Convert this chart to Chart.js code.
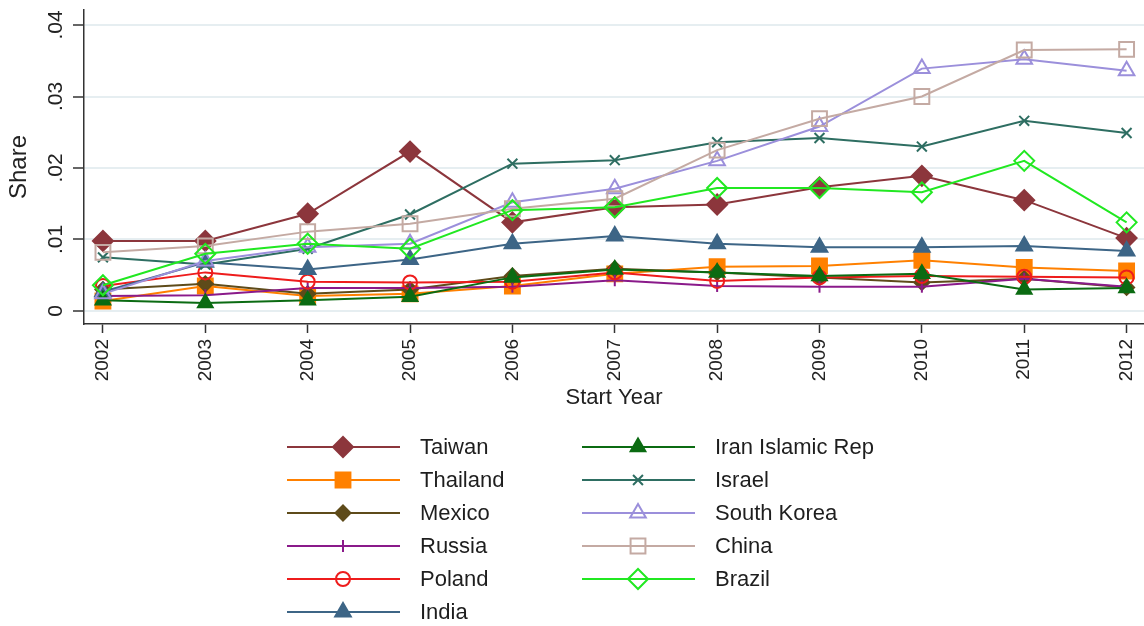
<!DOCTYPE html>
<html>
<head>
<meta charset="utf-8">
<script src="https://cdn.jsdelivr.net/npm/chart.js@4/dist/chart.umd.min.js"></script>
<style>
html,body{margin:0;padding:0;background:#ffffff;}
#wrap{width:1144px;height:626px;position:relative;}
</style>
</head>
<body>
<div id="wrap"><canvas id="c" width="1144" height="626"></canvas></div>
<script>
// ---- data ----
const years = [2002, 2003, 2004, 2005, 2006, 2007, 2008, 2009, 2010, 2011, 2012];
const yTicks = [0, 0.01, 0.02, 0.03, 0.04];
const countryNames = ["Taiwan", "Thailand", "Mexico", "Russia", "Poland", "India",
  "Iran Islamic Rep", "Israel", "South Korea", "China", "Brazil"];

const taiwan     = [0.0098, 0.0098, 0.0136, 0.0223, 0.0124, 0.0145, 0.0149, 0.0173, 0.0189, 0.0155, 0.0102];
const thailand   = [0.0014, 0.0035, 0.0021, 0.0024, 0.0035, 0.0052, 0.0062, 0.0063, 0.0071, 0.0061, 0.0056];
const mexico     = [0.0030, 0.0038, 0.0024, 0.0030, 0.0049, 0.0059, 0.0054, 0.0047, 0.0040, 0.0045, 0.0033];
const russia     = [0.0021, 0.0022, 0.0032, 0.0032, 0.0034, 0.0043, 0.0035, 0.0034, 0.0034, 0.0045, 0.0034];
const poland     = [0.0035, 0.0054, 0.0041, 0.0040, 0.0041, 0.0054, 0.0042, 0.0047, 0.0049, 0.0048, 0.0047];
const india      = [0.0027, 0.0068, 0.0058, 0.0072, 0.0094, 0.0105, 0.0094, 0.0089, 0.0089, 0.0091, 0.0084];
const iran       = [0.0015, 0.0011, 0.0015, 0.0020, 0.0047, 0.0058, 0.0054, 0.0049, 0.0052, 0.0030, 0.0032];
const israel     = [0.0075, 0.0065, 0.0087, 0.0135, 0.0206, 0.0211, 0.0236, 0.0242, 0.0230, 0.0266, 0.0249];
const southKorea = [0.0024, 0.0070, 0.0089, 0.0094, 0.0152, 0.0171, 0.0210, 0.0258, 0.0339, 0.0352, 0.0336];
const china      = [0.0082, 0.0091, 0.0111, 0.0122, 0.0143, 0.0157, 0.0225, 0.0269, 0.0300, 0.0365, 0.0366];
const brazil     = [0.0036, 0.0080, 0.0094, 0.0087, 0.0141, 0.0145, 0.0172, 0.0172, 0.0166, 0.0210, 0.0124];

const seriesValues = [taiwan, thailand, mexico, russia, poland, india, iran, israel, southKorea, china, brazil];

// ---- styles ----
const colors = ["#8c363c", "#ff8000", "#5e4b1a", "#8a1a8a", "#ee1c1c", "#3d6586",
  "#0b6b12", "#2e6e62", "#9b8fdb", "#c4aaa3", "#21e821"];
const markers = [
  {style: "rectRot", r: 10, fill: true},
  {style: "rect", r: 10.5, fill: true},
  {style: "rectRot", r: 7.5, fill: true},
  {style: "line", r: 6, fill: true, rot: 90},
  {style: "circle", r: 7, fill: false},
  {style: "triangle", r: 9, fill: true},
  {style: "triangle", r: 8.5, fill: true},
  {style: "crossRot", r: 7, fill: true},
  {style: "triangle", r: 9, fill: false},
  {style: "rect", r: 10.5, fill: false},
  {style: "rectRot", r: 10, fill: false}
];

const FONT = '"Liberation Sans", Arial, sans-serif';
const n = countryNames.length;

const datasets = countryNames.map((name, i) => ({
  label: name,
  data: years.map((yr, j) => ({x: yr, y: seriesValues[i][j]})),
  borderColor: colors[i],
  backgroundColor: colors[i],
  borderWidth: 2,
  pointStyle: markers[i].style,
  pointRadius: markers[i].r,
  pointRotation: markers[i].rot || 0,
  pointBackgroundColor: markers[i].fill ? colors[i] : "rgba(0,0,0,0)",
  pointBorderColor: colors[i],
  pointBorderWidth: 2,
  tension: 0,
  clip: false,
  order: n - i
}));

const legendPlugin = {
  id: "stataLegend",
  afterDraw(chart) {
    const ctx = chart.ctx;
    chart.data.datasets.forEach((ds, i) => {
      const col = i < 6 ? 0 : 1;
      const row = col ? i - 6 : i;
      const x0 = col ? 582 : 287;
      const x1 = x0 + 113;
      const mx = x0 + 56;
      const tx = x0 + 133;
      const y = 447 + row * 33;
      ctx.save();
      ctx.strokeStyle = ds.borderColor;
      ctx.lineWidth = ds.borderWidth;
      ctx.beginPath();
      ctx.moveTo(x0, y);
      ctx.lineTo(x1, y);
      ctx.stroke();
      ctx.fillStyle = ds.pointBackgroundColor;
      ctx.strokeStyle = ds.pointBorderColor;
      ctx.lineWidth = ds.pointBorderWidth;
      Chart.helpers.drawPoint(ctx, {
        pointStyle: ds.pointStyle,
        radius: ds.pointRadius,
        rotation: ds.pointRotation || 0,
        borderWidth: ds.pointBorderWidth
      }, mx, y);
      ctx.fillStyle = "#1e1e1e";
      ctx.font = "22px " + FONT;
      ctx.textBaseline = "middle";
      ctx.textAlign = "left";
      ctx.fillText(ds.label, tx, y + 1);
      ctx.restore();
    });
  }
};

new Chart(document.getElementById("c"), {
  type: "line",
  data: {datasets},
  plugins: [legendPlugin],
  options: {
    responsive: false,
    devicePixelRatio: 1,
    animation: false,
    layout: {autoPadding: false, padding: {top: 10, bottom: 216, left: 0, right: 0}},
    plugins: {legend: {display: false}, tooltip: {enabled: false}},
    scales: {
      x: {
        type: "linear",
        min: 2001.815,
        max: 2012.17,
        afterBuildTicks: s => { s.ticks = years.map(v => ({value: v})); },
        afterFit: s => { s.height = 86; s.paddingLeft = 0; s.paddingRight = 0; },
        ticks: {
          minRotation: 90, maxRotation: 90,
          padding: 6,
          color: "#222",
          font: {family: FONT, size: 19},
          callback: v => String(v)
        },
        grid: {drawOnChartArea: false, drawTicks: true, tickLength: 9, tickColor: "#333", tickWidth: 1.5},
        border: {color: "#333", width: 1.5},
        title: {display: true, text: "Start Year", color: "#222",
          font: {family: FONT, size: 22, lineHeight: 1}, padding: {top: 0, bottom: 1}}
      },
      y: {
        type: "linear",
        min: -0.00182,
        max: 0.0421,
        afterBuildTicks: s => { s.ticks = yTicks.map(v => ({value: v})); },
        afterFit: s => { s.width = 84; s.paddingTop = 0; s.paddingBottom = 0; },
        ticks: {
          minRotation: 90, maxRotation: 90,
          crossAlign: "center",
          padding: 2,
          color: "#222",
          font: {family: FONT, size: 21},
          callback: v => v === 0 ? "0" : v.toFixed(2).replace(/^0/, "")
        },
        grid: {color: "#e6eef1", lineWidth: 2, drawTicks: true, tickLength: 11, tickColor: "#333", tickWidth: 1.5},
        border: {color: "#333", width: 1.5},
        title: {display: true, text: "Share", color: "#222",
          font: {family: FONT, size: 24, lineHeight: 1}, padding: {top: 7, bottom: 0}}
      }
    }
  }
});
</script>
</body>
</html>
